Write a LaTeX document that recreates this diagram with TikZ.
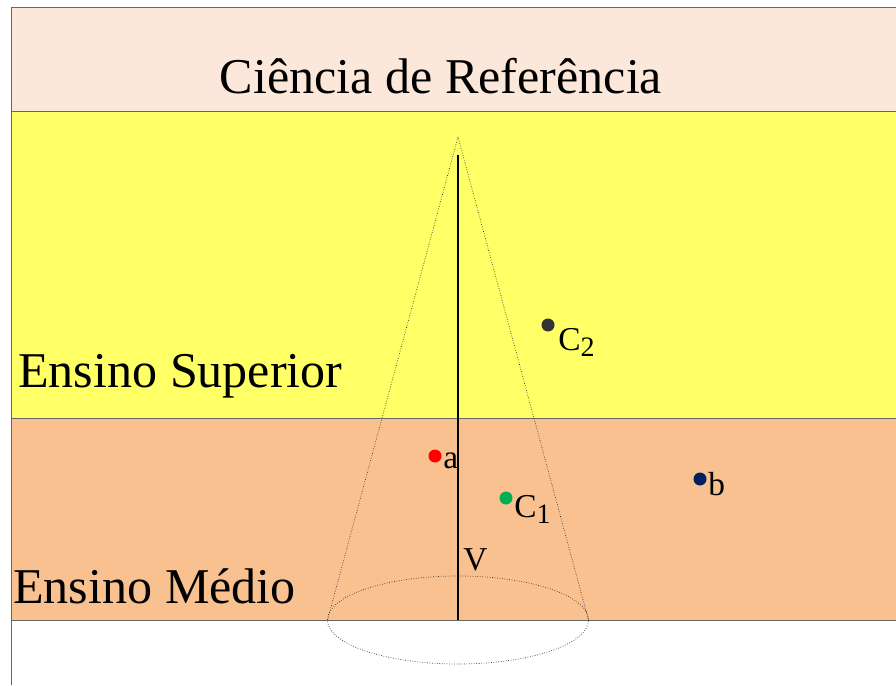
\documentclass[tikz,border=0pt]{standalone}
\usepackage{fontspec}
\setmainfont{Liberation Serif}
\definecolor{refband}{HTML}{FCE8DA}
\definecolor{supband}{HTML}{FFFF66}
\definecolor{medband}{HTML}{F9C18F}
\definecolor{bandline}{HTML}{666666}
\definecolor{dotgreen}{HTML}{00B050}
\definecolor{dotnavy}{HTML}{002060}
\definecolor{dotgray}{HTML}{333333}
\newcommand{\lowsub}[1]{\raisebox{-0.4ex}{\fontsize{16}{18}\selectfont #1}}
\tikzset{
  bandtext/.style={font=\fontsize{28.5}{32}\selectfont, inner sep=0pt},
  ptlabel/.style={font=\fontsize{19}{22}\selectfont, inner sep=0pt, anchor=base west},
  conelines/.style={densely dotted, line width=0.4pt, black!80},
}
\begin{document}
\begin{tikzpicture}
  \useasboundingbox (0,0) rectangle (17.92,13.7);
  \fill[white] (0,0) rectangle (17.92,13.7);
  % bands
  \fill[refband] (0.22,11.48) rectangle (17.92,13.56);
  \fill[supband] (0.22,5.34) rectangle (17.92,11.48);
  \fill[medband] (0.22,1.30) rectangle (17.92,5.34);
  \draw[bandline] (17.92,13.56) -- (0.22,13.56) -- (0.22,0);
  \draw[bandline] (0.22,11.48) -- (17.92,11.48);
  \draw[bandline] (0.22,5.34) -- (17.92,5.34);
  \draw[bandline] (0.22,1.30) -- (17.92,1.30);
  \node[bandtext, anchor=base] (ref) at (8.82,11.82) {Ciência de Referência};
  \node[bandtext, anchor=base west] (sup) at (0.36,5.96) {Ensino Superior};
  \node[bandtext, anchor=base west] (med) at (0.26,1.64) {Ensino Médio};
  % cone
  \coordinate (apex) at (9.16,10.96);
  \coordinate (top) at (9.16,10.6);
  \coordinate (base) at (9.16,1.30);
  \coordinate (bl) at (6.55,1.30);
  \coordinate (br) at (11.77,1.30);
  \draw[conelines] (bl) -- (apex) -- (br);
  \draw[conelines] (base) ellipse (2.61 and 0.88);
  \draw[line width=0.9pt] (top) -- (base);
  \node[ptlabel] (V) at (9.26,2.30) {V};
  % points
  \fill[red] (8.70,4.58) circle (0.13) coordinate (a);
  \fill[dotgreen] (10.12,3.74) circle (0.13) coordinate (c1);
  \fill[dotgray] (10.96,7.20) circle (0.13) coordinate (c2);
  \fill[dotnavy] (14.00,4.12) circle (0.13) coordinate (b);
  \node[ptlabel] (la) at (8.86,4.34) {a};
  \node[ptlabel] (lc1) at (10.28,3.36) {C\lowsub{1}};
  \node[ptlabel] (lc2) at (11.16,6.70) {C\lowsub{2}};
  \node[ptlabel] (lb) at (14.16,3.80) {b};
\end{tikzpicture}
\end{document}
